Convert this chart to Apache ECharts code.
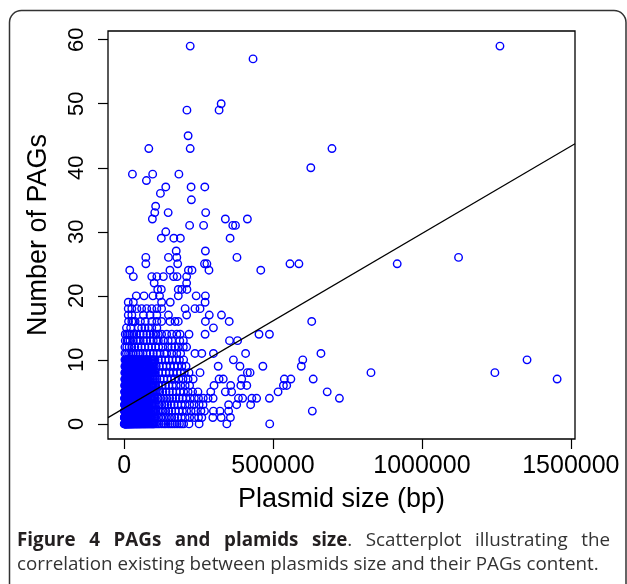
<!DOCTYPE html>
<html>
<head>
<meta charset="utf-8">
<script src="https://cdn.jsdelivr.net/npm/echarts@6/dist/echarts.min.js"></script>
<style>
  html, body { margin: 0; padding: 0; background: #fff; }
  #chart { width: 627px; height: 584px; }
</style>
</head>
<body>
<div id="chart"></div>
<script>
// tick positions
const xTicks = [0, 500000, 1000000, 1500000];
const yTicks = [0, 10, 20, 30, 40, 50, 60];

// fitted line: PAGs = a + b * size
const fitIntercept = 2.45;
const fitSlope = 2.727e-5;

// plasmid sizes (kb) grouped by number of PAGs (index = PAG count)
const sizesKbByPAG = [
  [1.2,2.5,3.1,4.4,5.6,6.8,8.1,9.5,11,12.7,14.2,16,18.3,20.1,22.6,25,27.4,30.2,33,36.1,39.5,42.8,46,49.7,53.2,57,61.4,65.8,70.3,75,80.2,85.6,91,96.4,101,106,112,118,126,134,140,148,155,162,170,178,186,193,200,218,252,345,489,
   0.6,1.8,3.7,5,7.4,8.8,10.2,13.4,15,17.1,19.2,21.3,23.8,26.2,28.8,31.6,34.5,37.8,41,44.4,47.8,51.4,55,59.2,63.6,68,72.6,77.6,82.9,88.3,93.7,98.7],
  [1.5,2.8,4,5.3,6.9,8.4,10.1,11.8,13.6,15.5,17.9,20.4,23,25.8,28.7,31.9,35.2,38.6,42.3,46.1,50,54.4,58.9,63.5,68.2,73.4,78.9,84.1,89.7,95.3,106,115,124,133,142,152,160,170,180,192,205,220,236,250,261,298,326,357,
   0.9,2.1,3.4,4.6,6.1,7.6,9.2,10.9,12.7,14.5,16.7,19.1,21.7,24.4,27.2,30.3,33.5,36.9,40.4,44.2,48,52.2,56.6,61.2,65.8,70.8,76.1,81.5,86.9,92.5,98.2,103],
  [1.9,3.3,4.7,6.1,7.7,9.3,11.2,13.1,15.2,17.4,19.8,22.3,25.1,28,31.2,34.5,37.9,41.6,45.5,49.6,53.8,58.1,62.7,67.5,72.6,77.9,83.3,89,94.8,100,106,113,122,131,140,150,160,172,184,196,210,225,240,258,270,300,322,351,632,
   1.1,2.6,4,5.4,6.9,8.5,10.2,12.1,14.1,16.3,18.6,21,23.7,26.5,29.6,32.8,36.2,39.7,43.5,47.5,51.7,55.9,60.4,65.1,70,75.2,80.6,86.1,91.9,97.4,103],
  [2.2,3.6,5.2,6.9,8.7,10.6,12.8,15,17.5,20.2,22.9,25.9,29.1,32.4,35.9,39.7,43.6,47.8,52.1,56.6,61.3,66.3,71.5,76.8,82.4,88.1,93.9,101,108,117,127,137,146,158,168,180,192,205,220,235,252,265,351,378,425,
   1.4,2.9,4.4,6,7.8,9.6,11.7,13.9,16.2,18.8,21.5,24.4,27.5,30.7,34.1,37.8,41.6,45.7,49.9,54.3,58.9,63.8,68.9,74.1,79.6,85.2,91,97.3],
  [2.4,4.1,5.9,7.8,9.9,12.1,14.5,17.1,19.8,22.7,25.8,29,32.5,36.2,40,44.1,48.4,52.9,57.6,62.5,67.7,73,78.6,84.3,90.2,96.1,104,114,123,133,143,153,163,174,185,196,208,222,236,250,266,282,299,384,398,429,445,488,723,
   1.6,3.2,5,6.8,8.8,11,13.3,15.8,18.4,21.2,24.2,27.4,30.7,34.3,38.1,42,46.2,50.6,55.2,60,65.1,70.3,75.8,81.4,87.2,93.1,99.8],
  [2.7,4.6,6.6,8.8,11.1,13.6,16.3,19.1,22.1,25.3,28.7,32.3,36.1,40.1,44.3,48.7,53.3,58.1,63.1,68.4,73.9,79.6,85.5,91.6,97.8,105,112,120,130,141,152,163,175,188,200,215,230,248,291,340,361,517,682,
   1.8,3.6,5.6,7.7,9.9,12.3,14.9,17.7,20.6,23.7,27,30.5,34.2,38.1,42.2,46.5,51,55.7,60.6,65.7,71.1,76.7,82.5,88.5,94.7,101],
  [3,5.2,7.5,10,12.7,15.6,18.7,21.9,25.4,29,32.9,37,41.4,45.9,50.7,55.7,61,66.5,72.2,78.1,84.3,90.6,97,106,116,128,139,150,162,175,190,205,220,302,358,392,412,535,546,
   2,4.1,6.3,8.7,11.3,14.1,17.1,20.3,23.6,27.2,30.9,34.9,39.2,43.6,48.3,53.2,58.3,63.7,69.3,75.1,81.2,87.4,93.8,101],
  [3.3,5.8,8.4,11.2,14.2,17.4,20.8,24.4,28.2,32.3,36.6,41.1,45.8,50.8,56,61.5,67.2,73.1,79.3,85.7,92.3,99,110,121,133,145,158,170,184,198,215,232,319,333,395,538,560,635,1454,
   2.3,4.5,7.1,9.8,12.7,15.8,19.1,22.6,26.3,30.2,34.4,38.8,43.4,48.3,53.4,58.7,64.3,70.1,76.2,82.5,89,95.6,104],
  [3.6,6.3,9.2,12.3,15.6,19.1,22.8,26.8,31,35.4,40.1,45,50.2,55.6,61.3,67.2,73.4,79.8,86.4,93.2,100,105,116,128,140,152,165,178,190,202,218,255,414,423,829,1245,
   2.5,5,7.7,10.7,13.9,17.3,20.9,24.8,28.9,33.2,37.7,42.5,47.6,52.9,58.4,64.2,70.3,76.6,83.1,89.8,96.6],
  [4,6.9,10,13.4,17,20.8,24.9,29.2,33.8,38.6,43.7,49,54.6,60.5,66.6,73,79.6,86.5,93.6,101,108,118,130,142,155,168,180,194,208,316,389,466,595,
   2.7,5.4,8.4,11.7,15.2,18.9,22.8,27,31.5,36.2,41.1,46.3,51.8,57.5,63.5,69.8,76.3,83,90,97.2],
  [4.4,7.6,11,14.7,18.6,22.8,27.2,31.9,36.9,42.1,47.6,53.4,59.4,65.7,72.3,79.1,86.2,93.5,100,104,115,126,138,150,162,175,186,200,367,600,1353,
   2.9,6,9.3,12.8,16.6,20.7,25,29.5,34.4,39.5,44.8,50.5,56.4,62.5,69,75.7,82.6,89.8,97],
  [3,8,15,22,31,40,48,54,63,76,88,98,110,121,135,143,160,177,190,238,261,300,408,661],
  [3,9,17,26,36,47,58,70,82,93,105,116,130,148,160,170,182,199,210],
  [4,10,14,20,31,42,48,54,65,76,88,98,110,115,132,148,160,187,199,354,381],
  [4,10,15,20,26,33,42,54,65,76,87,98,107,115,126,143,160,177,188,218,272,453,488],
  [8,22,48,59,70,82,93,110,300],
  [15,26,31,37,55,71,93,110,126,154,171,182,273,353,630],
  [14,26,65,87,110,149,210,286,327],
  [14,26,43,59,76,93,110,126,205,238,255],
  [14,31,126,155,272],
  [41,67,97,119,182,242,273],
  [113,125,182,194,211],
  [101,210],
  [31,93,110,132,166,178,210],
  [19,154,216,228,285,459],
  [73,180,270,278,557,587,917],
  [73,149,177,379,1123],
  [175,273],
  [],
  [125,167,189,356],
  [140],
  [220,267,365,374],
  [95,340,414],
  [103,148,274],
  [106],
  [226],
  [122],
  [140,225,271],
  [75],
  [28,96,184],
  [627],
  [],
  [],
  [83,222,698],
  [],
  [215],
  [],
  [],
  [],
  [211,319],
  [326],
  [],
  [],
  [],
  [],
  [],
  [],
  [433],
  [],
  [222,1262]
];

// caption text
const captionBold = 'Figure 4 PAGs and plamids size';
const captionLine1 = '. Scatterplot illustrating the';
const captionLine2 = 'correlation existing between plasmids size and their PAGs content.';

const xMin = -54000, xMax = 1514000;
const yMin = -2.36, yMax = 61.36;

let points = [];
sizesKbByPAG.forEach((row, pags) => {
  row.forEach(kb => points.push([kb * 1000, pags]));
});

const font = 'Liberation Sans, Arial, sans-serif';
const capFont = '"Open Sans", "Noto Sans", sans-serif';
const capSize = 18.8;
const capLeft = 17, capRight = 610;

// justify the first caption line: place each word by hand
let ctx = document.createElement('canvas').getContext('2d');
let words = [];
captionBold.split(' ').forEach(w => words.push({ t: w, bold: true }));
let rest = captionLine1.split(' ');
words[words.length - 1].tail = rest[0]; // the "." sticks to "size"
rest.slice(1).forEach(w => words.push({ t: w, bold: false }));
let totalW = 0;
words.forEach(w => {
  ctx.font = (w.bold ? 'bold ' : '') + capSize + 'px ' + capFont;
  w.w = ctx.measureText(w.t).width;
  if (w.tail) {
    ctx.font = capSize + 'px ' + capFont;
    w.w += ctx.measureText(w.tail).width;
  }
  totalW += w.w;
});
let gap = (capRight - capLeft - totalW) / (words.length - 1);
let cx = capLeft;
let captionEls = words.map(w => {
  let el = {
    type: 'text', x: cx, y: 531,
    style: {
      text: w.tail ? '{b|' + w.t + '}{r|' + w.tail + '}' : (w.bold ? '{b|' + w.t + '}' : '{r|' + w.t + '}'),
      rich: {
        b: { fontFamily: capFont, fontSize: capSize, fontWeight: 'bold', fill: '#231f20' },
        r: { fontFamily: capFont, fontSize: capSize, fill: '#333' }
      }
    }
  };
  cx += w.w + gap;
  return el;
});

let myChart = echarts.init(document.getElementById('chart'));
let option = {
  animation: false,
  backgroundColor: '#fff',
  grid: {
    left: 108, top: 31, right: 52, bottom: 145,
    show: true, borderColor: '#000', borderWidth: 1.3, backgroundColor: 'transparent'
  },
  xAxis: {
    type: 'value', min: xMin, max: xMax,
    name: 'Plasmid size (bp)', nameLocation: 'middle', nameGap: 47,
    nameTextStyle: { fontFamily: font, fontSize: 27, color: '#000' },
    axisLine: { show: false, onZero: false },
    splitLine: { show: false },
    axisTick: { customValues: xTicks, length: 10, lineStyle: { color: '#000', width: 1.2 } },
    axisLabel: {
      customValues: xTicks, fontFamily: font, fontSize: 25, color: '#000', margin: 15,
      formatter: v => String(v)
    }
  },
  yAxis: {
    type: 'value', min: yMin, max: yMax,
    name: 'Number of PAGs', nameLocation: 'middle', nameGap: 56,
    nameTextStyle: { fontFamily: font, fontSize: 27, color: '#000' },
    axisLine: { show: false, onZero: false },
    splitLine: { show: false },
    axisTick: { customValues: yTicks, length: 10, lineStyle: { color: '#000', width: 1.2 } },
    axisLabel: {
      customValues: yTicks, rotate: 90, fontFamily: font, fontSize: 22, color: '#000', margin: 20,
      formatter: v => String(v)
    }
  },
  series: [
    {
      type: 'scatter',
      data: points,
      symbol: 'circle',
      symbolSize: 7.5,
      itemStyle: { color: 'rgba(0,0,0,0)', borderColor: '#0000ff', borderWidth: 1.4, opacity: 1 },
      emphasis: { disabled: true },
      large: false
    },
    {
      type: 'line',
      data: [[xMin, fitIntercept + fitSlope * xMin], [xMax, fitIntercept + fitSlope * xMax]],
      symbol: 'none',
      lineStyle: { color: '#000', width: 1.2 },
      silent: true
    }
  ],
  graphic: [
    {
      type: 'rect',
      shape: { x: 9.5, y: 10.5, width: 616.5, height: 620, r: 12 },
      style: { fill: 'none', stroke: '#333', lineWidth: 1.5 },
      silent: true
    },
    ...captionEls,
    {
      type: 'text', x: capLeft, y: 555,
      style: { text: captionLine2, fontFamily: capFont, fontSize: capSize, fill: '#333' }
    }
  ]
};
myChart.setOption(option);
</script>
</body>
</html>
